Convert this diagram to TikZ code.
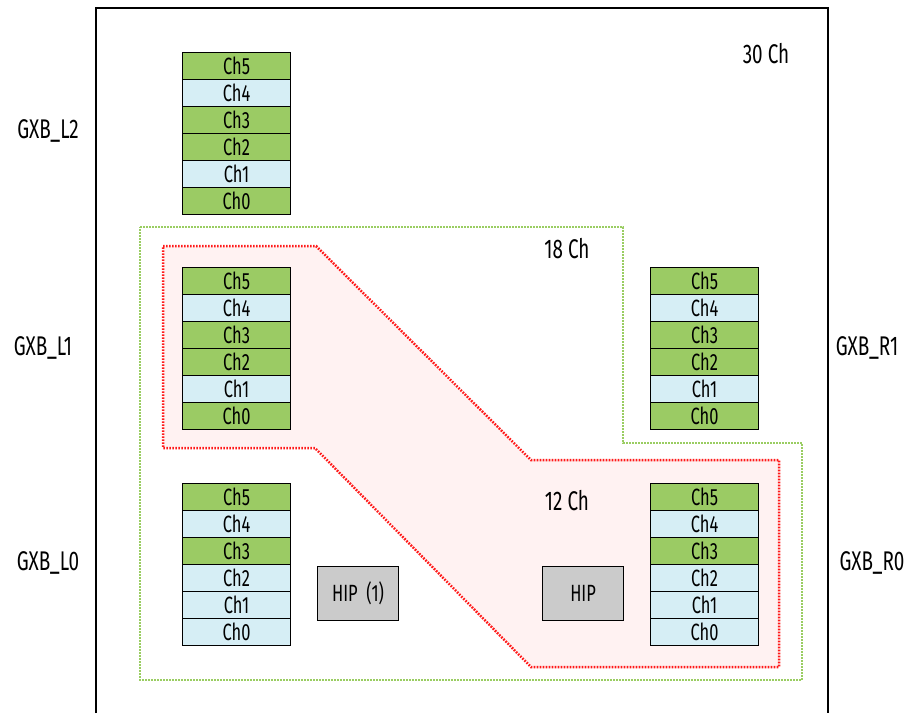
\documentclass[tikz,border=0pt]{standalone}
\usepackage{fontspec}
\setmainfont{Fira Sans}[FakeStretch=0.7]
\definecolor{chg}{HTML}{9BCB64}
\definecolor{chb}{HTML}{D6EEF5}
\definecolor{hipg}{HTML}{CBCBCB}
\definecolor{pinkfill}{HTML}{FFF2F2}
\definecolor{reddot}{HTML}{FF1A1A}
\definecolor{greendot}{HTML}{9ACD62}
\newcommand\chstack[4]{%
  \foreach \c [count=\i from 0] in {#4} {%
    \pgfmathtruncatemacro\chn{5-\i}%
    \node[cell, fill=\c] (#1c\chn) at (#2, {#3+27*\i}) {Ch\chn};
  }}
\begin{document}
\begin{tikzpicture}[x=1pt,y=-1pt,
  cell/.style={draw=black, line width=1.1pt, minimum width=108pt, minimum height=27pt,
    inner sep=0pt, anchor=north west, font=\fontsize{23.5}{23.5}\selectfont},
  hipbox/.style={draw=black, line width=1.1pt, fill=hipg, minimum width=81pt,
    minimum height=54pt, inner sep=0pt, anchor=north west, font=\fontsize{23.5}{23.5}\selectfont},
  lbl/.style={inner sep=0pt, font=\fontsize{27}{27}\selectfont},
  outer/.style={draw=black, line width=1.2pt},
  greenzone/.style={draw=greendot, line width=2.5pt, dash pattern=on 1.7pt off 1.3pt},
  redzone/.style={draw=reddot, fill=pinkfill, line width=2.5pt, dash pattern=on 1.7pt off 1.3pt}]
\useasboundingbox (0,0) rectangle (907,713);
% outer frame (open at bottom)
\draw[outer] (96,713) -- (96,8) -- (828,8) -- (828,713);
% 18 Ch zone
\draw[greenzone] (140,227) -- (623,227) -- (623,443) -- (802,443) -- (802,680) -- (140,680) -- cycle;
% 12 Ch zone
\draw[redzone] (163,246) -- (316,246) -- (531,460) -- (779,460) -- (779,667) -- (531,667) -- (315,448) -- (163,448) -- cycle;
% transceiver banks
\chstack{Ltwo}{182}{52}{chg,chb,chg,chg,chb,chg}
\chstack{Lone}{182}{267}{chg,chb,chg,chg,chb,chg}
\chstack{Rone}{650}{267}{chg,chb,chg,chg,chb,chg}
\chstack{Lzero}{182}{483}{chg,chb,chg,chb,chb,chb}
\chstack{Rzero}{650}{483}{chg,chb,chg,chb,chb,chb}
% HIP blocks
\node[hipbox] (hipL) at (317,566) {HIP\ \ (1)};
\node[hipbox] (hipR) at (542,566) {HIP};
% labels
\node[lbl] (t30) at (766,54) {30 Ch};
\node[lbl] (t18) at (567,249) {18 Ch};
\node[lbl] (t12) at (567,501) {12 Ch};
\node[lbl] (gl2) at (48,131) {GXB\_L2};
\node[lbl] (gl1) at (43,348) {GXB\_L1};
\node[lbl] (gl0) at (48,563) {GXB\_L0};
\node[lbl] (gr1) at (867,348) {GXB\_R1};
\node[lbl] (gr0) at (872,563) {GXB\_R0};
\end{tikzpicture}
\end{document}
